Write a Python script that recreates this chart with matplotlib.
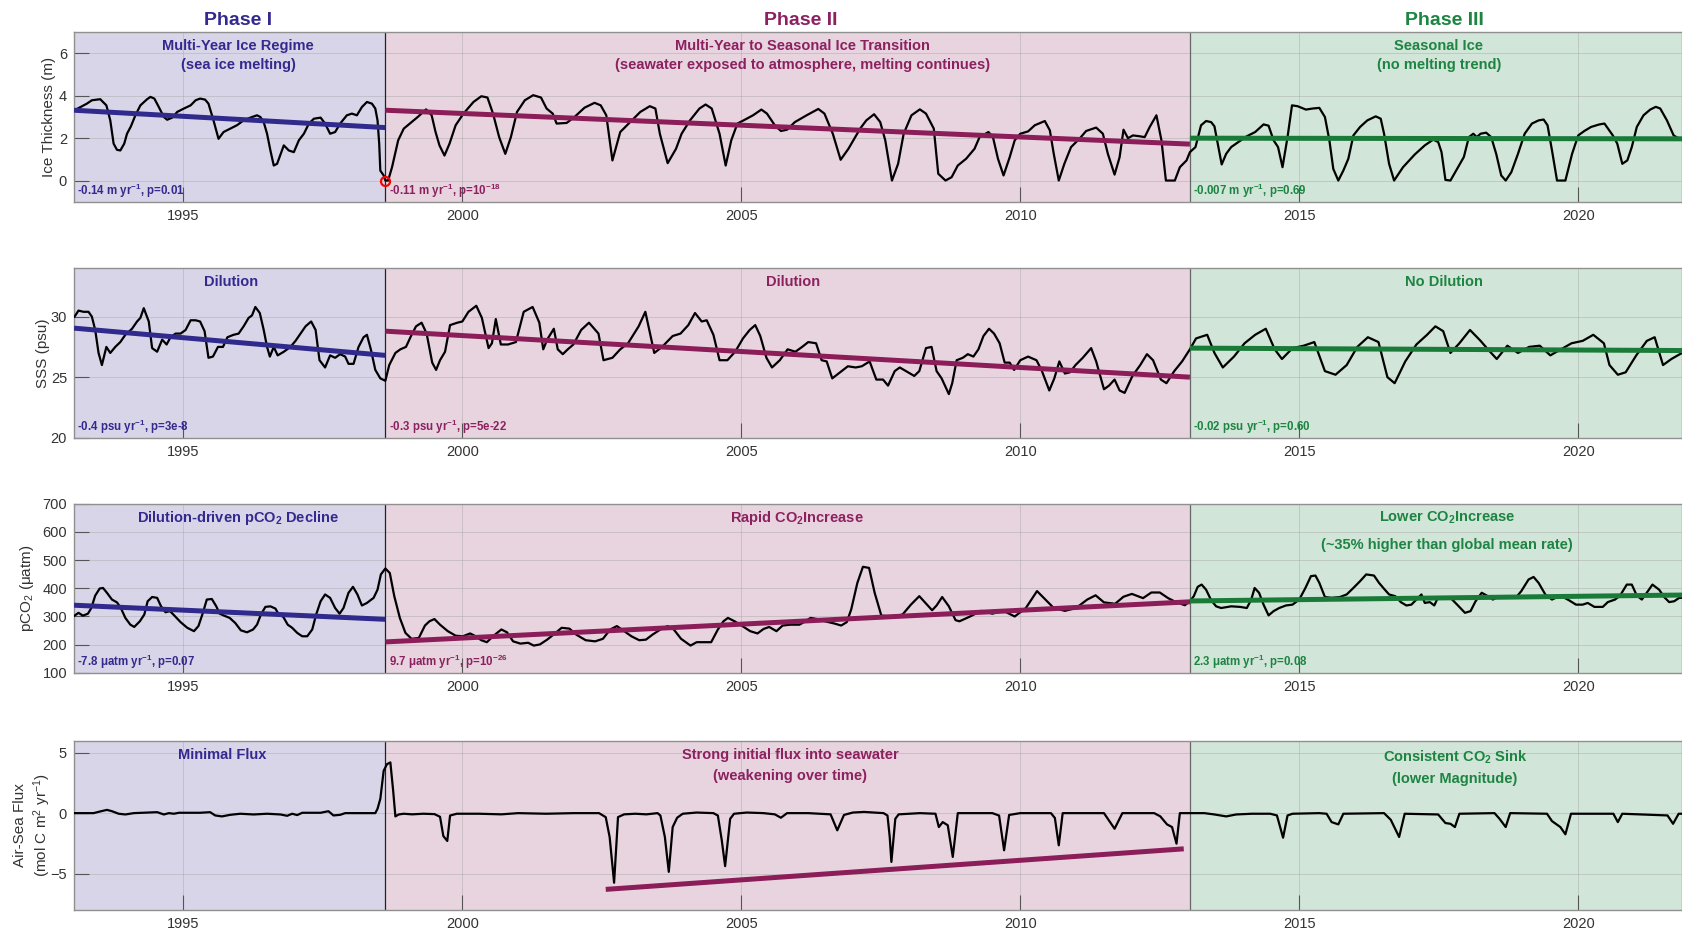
import numpy as np
import matplotlib.pyplot as plt

plt.rcParams['font.family'] = ['Liberation Sans', 'DejaVu Sans']
plt.rcParams['mathtext.default'] = 'regular'

# phase boundaries (decimal year)
phase_edges = [1993.04, 1998.62, 2013.04, 2021.86]
phase_names = ['Phase I', 'Phase II', 'Phase III']
phase_title_x = [1995.98, 2006.06, 2017.6]

# ice thickness (m) as (year, value)
ice = [
    (1993.05, 3.32), (1993.27, 3.63), (1993.36, 3.79), (1993.51, 3.84), (1993.62, 3.55), (1993.69, 2.84),
    (1993.75, 1.74), (1993.81, 1.45), (1993.87, 1.42), (1993.94, 1.74), (1993.99, 2.21), (1994.06, 2.56),
    (1994.14, 3.08), (1994.23, 3.55), (1994.35, 3.84), (1994.41, 3.95), (1994.48, 3.87), (1994.56, 3.47),
    (1994.65, 3.00), (1994.71, 2.87), (1994.80, 2.97), (1994.89, 3.24), (1995.01, 3.40), (1995.13, 3.55),
    (1995.22, 3.79), (1995.30, 3.87), (1995.39, 3.82), (1995.45, 3.63), (1995.54, 2.84), (1995.63, 1.97),
    (1995.72, 2.29), (1995.84, 2.45), (1995.96, 2.61), (1996.08, 2.84), (1996.20, 2.97), (1996.32, 3.08),
    (1996.38, 3.00), (1996.44, 2.76), (1996.50, 2.21), (1996.56, 1.42), (1996.62, 0.71), (1996.68, 0.79),
    (1996.80, 1.66), (1996.89, 1.42), (1996.98, 1.34), (1997.07, 1.90), (1997.16, 2.21), (1997.25, 2.69),
    (1997.34, 2.92), (1997.46, 2.97), (1997.54, 2.69), (1997.63, 2.21), (1997.72, 2.29), (1997.81, 2.69),
    (1997.93, 3.08), (1998.02, 3.16), (1998.11, 3.08), (1998.20, 3.47), (1998.29, 3.71), (1998.38, 3.63),
    (1998.44, 3.40), (1998.48, 2.84), (1998.51, 1.74), (1998.53, 0.47), (1998.59, 0.24), (1998.62, 0.00),
    (1998.67, 0.00), (1998.74, 0.63), (1998.85, 1.90), (1998.95, 2.45), (1999.06, 2.69), (1999.20, 3.00),
    (1999.35, 3.36), (1999.45, 3.08), (1999.52, 2.29), (1999.59, 1.66), (1999.68, 1.18), (1999.77, 1.74),
    (1999.88, 2.61), (2000.02, 3.16), (2000.20, 3.71), (2000.34, 3.98), (2000.45, 3.92), (2000.55, 3.16),
    (2000.66, 2.05), (2000.77, 1.26), (2000.87, 2.05), (2000.98, 3.24), (2001.12, 3.79), (2001.27, 4.03),
    (2001.41, 3.92), (2001.51, 3.40), (2001.62, 3.16), (2001.69, 2.69), (2001.87, 2.72), (2002.01, 3.00),
    (2002.19, 3.44), (2002.37, 3.67), (2002.48, 3.55), (2002.58, 3.08), (2002.69, 0.95), (2002.83, 2.29),
    (2003.04, 2.84), (2003.19, 3.24), (2003.36, 3.51), (2003.46, 3.40), (2003.54, 2.21), (2003.68, 0.82),
    (2003.83, 1.50), (2003.93, 2.21), (2004.08, 2.84), (2004.25, 3.40), (2004.36, 3.59), (2004.47, 3.40),
    (2004.61, 2.21), (2004.72, 0.71), (2004.82, 1.90), (2004.93, 2.69), (2005.04, 2.84), (2005.21, 3.08),
    (2005.36, 3.35), (2005.46, 3.16), (2005.60, 2.61), (2005.71, 2.34), (2005.82, 2.40), (2005.96, 2.76),
    (2006.17, 3.08), (2006.38, 3.38), (2006.49, 3.16), (2006.64, 2.21), (2006.78, 0.98), (2006.92, 1.50),
    (2007.13, 2.45), (2007.24, 2.84), (2007.38, 3.13), (2007.49, 2.76), (2007.58, 1.90), (2007.70, 0.00),
    (2007.81, 0.79), (2007.91, 2.21), (2008.05, 3.08), (2008.20, 3.36), (2008.31, 3.16), (2008.45, 2.45),
    (2008.53, 0.32), (2008.66, 0.00), (2008.77, 0.16), (2008.88, 0.71), (2009.03, 1.03), (2009.18, 1.50),
    (2009.27, 2.05), (2009.43, 2.29), (2009.51, 2.05), (2009.60, 1.03), (2009.70, 0.24), (2009.81, 1.10),
    (2009.90, 1.90), (2010.00, 2.21), (2010.14, 2.32), (2010.26, 2.61), (2010.44, 2.81), (2010.53, 2.37),
    (2010.60, 1.26), (2010.69, 0.00), (2010.79, 0.79), (2010.91, 1.58), (2011.06, 1.97), (2011.18, 2.34),
    (2011.36, 2.50), (2011.48, 2.21), (2011.57, 1.26), (2011.69, 0.28), (2011.78, 1.10), (2011.85, 2.40),
    (2011.93, 2.00), (2012.02, 2.13), (2012.14, 2.09), (2012.23, 2.05), (2012.32, 2.53), (2012.44, 3.08),
    (2012.53, 1.90), (2012.61, 0.00), (2012.77, 0.00), (2012.86, 0.63), (2012.98, 0.95), (2013.04, 1.34),
    (2013.14, 1.58), (2013.24, 2.61), (2013.33, 2.81), (2013.42, 2.76), (2013.48, 2.56), (2013.54, 1.74),
    (2013.61, 0.76), (2013.69, 1.26), (2013.78, 1.58), (2013.91, 1.82), (2014.06, 2.09), (2014.21, 2.29),
    (2014.36, 2.65), (2014.45, 2.59), (2014.54, 1.90), (2014.62, 1.58), (2014.70, 0.63), (2014.79, 2.05),
    (2014.87, 3.55), (2014.97, 3.51), (2015.12, 3.35), (2015.24, 3.40), (2015.36, 3.43), (2015.46, 3.00),
    (2015.54, 1.90), (2015.61, 0.55), (2015.70, 0.00), (2015.79, 0.47), (2015.88, 1.03), (2015.97, 2.13),
    (2016.09, 2.53), (2016.22, 2.84), (2016.37, 3.03), (2016.46, 2.92), (2016.52, 2.21), (2016.61, 0.79),
    (2016.70, 0.00), (2016.86, 0.63), (2017.07, 1.23), (2017.25, 1.66), (2017.40, 1.93), (2017.49, 1.82),
    (2017.55, 1.34), (2017.62, 0.03), (2017.71, 0.00), (2017.83, 0.55), (2017.95, 1.11), (2018.04, 2.05),
    (2018.12, 2.21), (2018.18, 2.05), (2018.25, 2.21), (2018.35, 2.26), (2018.44, 2.05), (2018.53, 1.26),
    (2018.62, 0.24), (2018.70, 0.00), (2018.80, 0.39), (2018.92, 1.26), (2019.04, 2.21), (2019.17, 2.69),
    (2019.29, 2.84), (2019.38, 2.88), (2019.45, 2.61), (2019.53, 1.42), (2019.62, 0.00), (2019.77, 0.00),
    (2019.89, 1.26), (2020.00, 2.13), (2020.11, 2.34), (2020.23, 2.53), (2020.38, 2.65), (2020.47, 2.69),
    (2020.62, 2.13), (2020.70, 1.74), (2020.79, 0.79), (2020.88, 0.95), (2020.96, 1.58), (2021.05, 2.53),
    (2021.17, 3.08), (2021.29, 3.35), (2021.39, 3.48), (2021.47, 3.40), (2021.59, 2.84), (2021.71, 2.13),
    (2021.81, 1.97), (2021.86, 1.97),
]

# sea surface salinity (psu)
sss = [
    (1993.05, 30.0), (1993.12, 30.5), (1993.21, 30.4), (1993.30, 30.4), (1993.36, 30.0), (1993.42, 28.9),
    (1993.48, 27.0), (1993.54, 26.0), (1993.62, 27.5), (1993.69, 27.0), (1993.78, 27.5), (1993.87, 27.9),
    (1993.96, 28.5), (1994.08, 29.0), (1994.17, 29.6), (1994.23, 29.9), (1994.29, 30.7), (1994.38, 29.6),
    (1994.44, 27.4), (1994.53, 27.1), (1994.62, 28.1), (1994.70, 27.7), (1994.77, 28.3), (1994.86, 28.6),
    (1994.95, 28.6), (1995.04, 28.9), (1995.13, 29.7), (1995.22, 29.7), (1995.30, 29.6), (1995.38, 28.8),
    (1995.45, 26.6), (1995.53, 26.7), (1995.62, 27.5), (1995.71, 27.5), (1995.79, 28.3), (1995.90, 28.5),
    (1995.99, 28.6), (1996.08, 29.2), (1996.17, 29.9), (1996.23, 30.1), (1996.29, 30.8), (1996.37, 30.3),
    (1996.44, 28.9), (1996.50, 27.5), (1996.55, 26.7), (1996.62, 27.5), (1996.69, 26.8), (1996.80, 27.1),
    (1996.92, 27.5), (1997.01, 28.0), (1997.10, 28.6), (1997.19, 29.2), (1997.29, 29.6), (1997.37, 28.9),
    (1997.44, 26.4), (1997.54, 25.8), (1997.63, 26.8), (1997.72, 26.6), (1997.81, 26.9), (1997.90, 26.7),
    (1997.96, 26.1), (1998.05, 26.1), (1998.14, 27.5), (1998.23, 28.3), (1998.29, 28.5), (1998.36, 27.3),
    (1998.44, 25.6), (1998.53, 24.9), (1998.62, 24.7), (1998.69, 26.0), (1998.80, 27.0), (1998.89, 27.3),
    (1998.99, 27.5), (1999.08, 28.4), (1999.17, 29.2), (1999.27, 29.5), (1999.36, 28.6), (1999.46, 26.2),
    (1999.53, 25.6), (1999.60, 26.4), (1999.69, 27.1), (1999.78, 29.3), (1999.91, 29.5), (2000.00, 29.6),
    (2000.11, 30.4), (2000.25, 30.9), (2000.35, 29.9), (2000.47, 27.4), (2000.53, 27.8), (2000.60, 29.8),
    (2000.69, 27.7), (2000.82, 27.7), (2000.96, 27.9), (2001.10, 30.4), (2001.26, 30.8), (2001.38, 29.5),
    (2001.45, 27.3), (2001.52, 28.1), (2001.64, 29.0), (2001.71, 27.3), (2001.80, 26.9), (2001.89, 27.3),
    (2001.99, 27.7), (2002.13, 28.9), (2002.27, 29.5), (2002.44, 28.6), (2002.53, 26.4), (2002.69, 26.6),
    (2002.83, 27.3), (2002.97, 27.8), (2003.16, 29.2), (2003.28, 30.4), (2003.37, 28.5), (2003.44, 27.0),
    (2003.58, 27.5), (2003.77, 28.4), (2003.91, 28.6), (2004.05, 29.3), (2004.17, 30.3), (2004.29, 29.6),
    (2004.38, 29.7), (2004.50, 28.5), (2004.61, 26.4), (2004.75, 26.4), (2004.89, 27.1), (2005.03, 28.2),
    (2005.15, 28.9), (2005.25, 29.3), (2005.34, 28.4), (2005.45, 26.6), (2005.55, 25.8), (2005.69, 26.4),
    (2005.83, 27.3), (2005.97, 27.1), (2006.09, 27.5), (2006.20, 27.9), (2006.34, 27.8), (2006.44, 26.4),
    (2006.53, 26.3), (2006.63, 24.9), (2006.77, 25.4), (2006.91, 25.9), (2007.05, 25.8), (2007.16, 25.9),
    (2007.30, 26.3), (2007.42, 24.8), (2007.54, 24.8), (2007.63, 24.3), (2007.75, 25.5), (2007.84, 25.8),
    (2007.99, 25.4), (2008.10, 25.1), (2008.19, 25.5), (2008.31, 27.4), (2008.41, 27.5), (2008.50, 25.5),
    (2008.59, 24.9), (2008.72, 23.6), (2008.78, 24.5), (2008.86, 26.4), (2008.97, 26.6), (2009.06, 26.9),
    (2009.16, 26.7), (2009.25, 27.3), (2009.34, 28.4), (2009.44, 29.0), (2009.53, 28.6), (2009.63, 27.8),
    (2009.72, 26.2), (2009.81, 26.2), (2009.89, 25.6), (2010.00, 26.4), (2010.14, 26.7), (2010.29, 26.4),
    (2010.38, 25.6), (2010.52, 23.9), (2010.61, 24.9), (2010.70, 26.3), (2010.80, 25.3), (2010.89, 25.4),
    (2010.99, 26.0), (2011.12, 26.6), (2011.27, 27.4), (2011.36, 26.3), (2011.50, 24.0), (2011.59, 24.3),
    (2011.69, 24.8), (2011.78, 23.9), (2011.87, 23.7), (2012.01, 25.1), (2012.15, 26.0), (2012.27, 26.9),
    (2012.38, 26.4), (2012.52, 24.8), (2012.62, 24.5), (2012.76, 25.5), (2012.90, 26.3), (2013.04, 27.3),
    (2013.15, 28.2), (2013.35, 28.5), (2013.48, 27.0), (2013.63, 25.8), (2013.83, 26.7), (2014.02, 27.8),
    (2014.21, 28.5), (2014.40, 29.0), (2014.56, 27.3), (2014.69, 26.5), (2014.88, 27.4), (2015.08, 27.6),
    (2015.27, 27.9), (2015.46, 25.5), (2015.65, 25.2), (2015.85, 26.0), (2016.04, 27.5), (2016.23, 28.3),
    (2016.42, 27.9), (2016.58, 25.0), (2016.71, 24.5), (2016.90, 26.3), (2017.10, 27.7), (2017.29, 28.5),
    (2017.44, 29.2), (2017.58, 28.8), (2017.71, 27.0), (2017.87, 27.8), (2018.06, 28.9), (2018.25, 28.0),
    (2018.40, 27.2), (2018.54, 26.5), (2018.73, 27.6), (2018.92, 27.0), (2019.12, 27.5), (2019.31, 27.6),
    (2019.50, 26.8), (2019.69, 27.3), (2019.88, 27.8), (2020.08, 28.0), (2020.27, 28.5), (2020.46, 27.8),
    (2020.56, 26.0), (2020.71, 25.2), (2020.85, 25.4), (2021.04, 26.8), (2021.23, 28.0), (2021.37, 28.3),
    (2021.52, 26.0), (2021.67, 26.5), (2021.86, 27.0),
]

# surface pCO2 (uatm)
pco2 = [
    (1993.05, 303), (1993.12, 313), (1993.20, 303), (1993.29, 310), (1993.35, 330), (1993.42, 374),
    (1993.50, 399), (1993.56, 401), (1993.63, 384), (1993.72, 360), (1993.81, 350), (1993.88, 330),
    (1993.96, 295), (1994.05, 271), (1994.12, 263), (1994.22, 283), (1994.30, 307), (1994.36, 354),
    (1994.44, 369), (1994.53, 366), (1994.60, 336), (1994.68, 315), (1994.76, 319), (1994.84, 303),
    (1994.95, 280), (1995.07, 260), (1995.19, 248), (1995.27, 266), (1995.35, 313), (1995.42, 360),
    (1995.51, 362), (1995.59, 336), (1995.65, 310), (1995.73, 303), (1995.83, 295), (1995.93, 277),
    (1996.03, 251), (1996.14, 244), (1996.25, 254), (1996.32, 271), (1996.39, 307), (1996.47, 334),
    (1996.56, 336), (1996.65, 328), (1996.71, 307), (1996.79, 299), (1996.87, 271), (1996.95, 260),
    (1997.04, 242), (1997.13, 230), (1997.22, 230), (1997.31, 254), (1997.38, 307), (1997.46, 354),
    (1997.54, 378), (1997.63, 366), (1997.72, 330), (1997.80, 310), (1997.87, 330), (1997.96, 384),
    (1998.04, 405), (1998.12, 378), (1998.20, 339), (1998.29, 348), (1998.41, 366), (1998.48, 395),
    (1998.54, 449), (1998.62, 470), (1998.70, 454), (1998.78, 372), (1998.88, 295), (1998.98, 242),
    (1999.09, 221), (1999.22, 224), (1999.33, 268), (1999.41, 283), (1999.50, 291), (1999.60, 271),
    (1999.74, 248), (1999.88, 232), (2000.01, 230), (2000.14, 240), (2000.22, 232), (2000.34, 216),
    (2000.44, 209), (2000.56, 232), (2000.70, 254), (2000.80, 244), (2000.91, 212), (2001.04, 204),
    (2001.18, 207), (2001.28, 197), (2001.39, 201), (2001.52, 218), (2001.66, 240), (2001.78, 260),
    (2001.92, 257), (2002.04, 236), (2002.21, 216), (2002.38, 212), (2002.52, 221), (2002.65, 254),
    (2002.77, 266), (2002.88, 251), (2003.03, 230), (2003.17, 216), (2003.29, 218), (2003.41, 236),
    (2003.55, 254), (2003.68, 266), (2003.79, 254), (2003.92, 221), (2004.09, 197), (2004.20, 209),
    (2004.33, 209), (2004.46, 209), (2004.58, 254), (2004.68, 283), (2004.76, 295), (2004.88, 283),
    (2005.02, 266), (2005.16, 248), (2005.29, 240), (2005.40, 256), (2005.50, 263), (2005.63, 248),
    (2005.74, 268), (2005.88, 271), (2006.04, 271), (2006.15, 283), (2006.24, 295), (2006.36, 291),
    (2006.50, 283), (2006.67, 275), (2006.79, 268), (2006.89, 280), (2006.97, 325), (2007.08, 419),
    (2007.18, 476), (2007.29, 472), (2007.39, 384), (2007.51, 303), (2007.63, 301), (2007.76, 301),
    (2007.89, 307), (2008.04, 342), (2008.19, 372), (2008.30, 348), (2008.42, 322), (2008.50, 339),
    (2008.60, 369), (2008.72, 336), (2008.84, 287), (2008.91, 283), (2009.10, 300), (2009.30, 320),
    (2009.50, 310), (2009.70, 320), (2009.90, 300), (2010.10, 330), (2010.30, 390), (2010.45, 360),
    (2010.60, 330), (2010.80, 320), (2011.00, 330), (2011.20, 360), (2011.35, 375), (2011.50, 350),
    (2011.70, 345), (2011.85, 370), (2012.00, 380), (2012.20, 365), (2012.35, 385), (2012.50, 385),
    (2012.65, 365), (2012.80, 350), (2012.95, 340), (2013.04, 354), (2013.11, 372), (2013.18, 405),
    (2013.25, 413), (2013.33, 395), (2013.42, 358), (2013.51, 336), (2013.60, 330), (2013.78, 336),
    (2013.94, 334), (2014.06, 330), (2014.14, 360), (2014.20, 401), (2014.28, 384), (2014.36, 342),
    (2014.45, 304), (2014.54, 319), (2014.64, 330), (2014.76, 339), (2014.88, 342), (2015.00, 360),
    (2015.11, 401), (2015.21, 443), (2015.29, 445), (2015.36, 419), (2015.46, 369), (2015.58, 366),
    (2015.73, 369), (2015.85, 378), (2015.97, 401), (2016.09, 425), (2016.20, 449), (2016.34, 445),
    (2016.43, 419), (2016.52, 398), (2016.61, 378), (2016.72, 372), (2016.82, 351), (2016.92, 339),
    (2017.01, 342), (2017.10, 360), (2017.19, 378), (2017.25, 348), (2017.34, 351), (2017.42, 339),
    (2017.49, 369), (2017.59, 366), (2017.71, 366), (2017.83, 342), (2017.97, 313), (2018.07, 319),
    (2018.16, 354), (2018.27, 384), (2018.38, 372), (2018.47, 360), (2018.56, 369), (2018.68, 366),
    (2018.80, 369), (2018.88, 366), (2018.98, 390), (2019.11, 431), (2019.20, 440), (2019.29, 419),
    (2019.41, 378), (2019.53, 360), (2019.68, 374), (2019.83, 358), (2019.96, 342), (2020.08, 342),
    (2020.17, 348), (2020.29, 334), (2020.44, 334), (2020.53, 351), (2020.66, 360), (2020.75, 374),
    (2020.87, 413), (2020.96, 413), (2021.05, 374), (2021.14, 360), (2021.25, 390), (2021.33, 413),
    (2021.45, 395), (2021.54, 369), (2021.63, 351), (2021.72, 354), (2021.81, 366), (2021.86, 366),
]

# air-sea CO2 flux (mol C m-2 yr-1)
flux = [
    (1993.05, 0.00), (1993.39, 0.00), (1993.51, 0.14), (1993.63, 0.27), (1993.72, 0.16), (1993.84, -0.05),
    (1993.96, -0.11), (1994.11, 0.00), (1994.53, 0.08), (1994.65, -0.11), (1994.74, 0.00), (1994.83, -0.05),
    (1994.92, 0.03), (1995.30, 0.03), (1995.48, 0.08), (1995.57, -0.19), (1995.69, -0.27), (1995.84, -0.14),
    (1996.02, -0.05), (1996.26, -0.11), (1996.50, -0.05), (1996.74, -0.11), (1996.86, -0.22), (1996.95, -0.05),
    (1997.04, -0.16), (1997.13, 0.03), (1997.46, 0.03), (1997.60, 0.16), (1997.69, -0.19), (1997.81, -0.14),
    (1997.90, 0.00), (1998.44, 0.00), (1998.48, 0.36), (1998.53, 1.18), (1998.59, 3.50), (1998.65, 4.05),
    (1998.71, 4.19), (1998.76, 1.86), (1998.80, -0.27), (1998.86, -0.11), (1998.95, -0.05), (1999.10, -0.10),
    (1999.30, -0.05), (1999.50, -0.08), (1999.60, -0.30), (1999.66, -1.90), (1999.73, -2.30), (1999.78, -0.20),
    (1999.90, -0.05), (2000.30, -0.05), (2000.70, -0.10), (2001.00, 0.00), (2001.50, -0.05), (2002.00, 0.00),
    (2002.45, 0.00), (2002.57, -0.33), (2002.64, -1.97), (2002.72, -5.75), (2002.79, -0.33), (2002.90, -0.10),
    (2003.10, -0.05), (2003.30, -0.10), (2003.50, 0.00), (2003.55, -0.20), (2003.63, -1.97), (2003.70, -4.85),
    (2003.77, -1.15), (2003.85, -0.38), (2003.95, -0.05), (2004.20, 0.05), (2004.50, 0.00), (2004.58, -0.20),
    (2004.65, -2.25), (2004.71, -4.38), (2004.80, -0.47), (2004.87, -0.05), (2005.10, 0.05), (2005.40, 0.00),
    (2005.60, -0.10), (2005.71, -0.38), (2005.82, 0.00), (2006.20, 0.00), (2006.60, -0.10), (2006.72, -1.42),
    (2006.84, -0.15), (2007.00, 0.05), (2007.20, 0.10), (2007.55, 0.00), (2007.62, -0.20), (2007.66, -1.97),
    (2007.69, -4.03), (2007.76, -0.47), (2007.82, -0.10), (2008.20, 0.00), (2008.48, -0.05), (2008.54, -1.15),
    (2008.61, -0.74), (2008.70, -1.00), (2008.79, -3.62), (2008.88, 0.00), (2009.50, 0.00), (2009.62, -0.20),
    (2009.71, -3.07), (2009.80, -0.15), (2010.00, 0.00), (2010.55, 0.00), (2010.62, -0.40), (2010.69, -2.66),
    (2010.76, 0.00), (2011.50, 0.00), (2011.69, -1.29), (2011.83, 0.00), (2012.40, 0.00), (2012.51, -0.27),
    (2012.63, -0.93), (2012.72, -1.15), (2012.80, -2.52), (2012.86, 0.00), (2013.04, 0.00), (2013.30, 0.00),
    (2013.48, -0.11), (2013.69, -0.27), (2013.87, -0.11), (2014.15, -0.05), (2014.48, -0.05), (2014.60, -0.19),
    (2014.71, -2.03), (2014.79, -0.19), (2014.88, -0.05), (2015.36, 0.00), (2015.49, -0.05), (2015.58, -0.74),
    (2015.70, -0.93), (2015.79, -0.05), (2016.52, 0.00), (2016.64, -0.55), (2016.79, -1.97), (2016.89, -0.05),
    (2017.49, -0.11), (2017.62, -0.82), (2017.71, -0.88), (2017.79, -1.15), (2017.87, -0.05), (2018.50, 0.00),
    (2018.59, -0.47), (2018.70, -1.15), (2018.78, 0.00), (2019.44, -0.05), (2019.53, -0.66), (2019.68, -1.15),
    (2019.77, -1.75), (2019.87, -0.05), (2020.63, -0.05), (2020.71, -0.74), (2020.79, -0.05), (2021.60, -0.19),
    (2021.70, -0.88), (2021.80, -0.05), (2021.86, -0.05),
]

# linear trend per phase: (value at phase start, value at phase end)
ice_trend = [(3.32, 2.50), (3.32, 1.72), (2.00, 1.97)]
sss_trend = [(29.05, 26.80), (28.80, 25.00), (27.40, 27.20)]
pco2_trend = [(340, 290), (210, 352), (355, 376)]
# flux trend drawn only over part of phase II
flux_trend_x = [2002.57, 2012.93]
flux_trend_y = [-6.30, -2.95]

ice_notes = [r'-0.14 m yr$^{-1}$, p=0.01', r'-0.11 m yr$^{-1}$, p=10$^{-18}$', r'-0.007 m yr$^{-1}$, p=0.69']
sss_notes = [r'-0.4 psu yr$^{-1}$, p=3e-8', r'-0.3 psu yr$^{-1}$, p=5e-22', r'-0.02 psu yr$^{-1}$, p=0.60']
pco2_notes = [r'-7.8 $\mu$atm yr$^{-1}$, p=0.07', r'9.7 $\mu$atm yr$^{-1}$, p=10$^{-26}$',
              r'2.3 $\mu$atm yr$^{-1}$, p=0.08']

ice_heads = ['Multi-Year Ice Regime\n(sea ice melting)',
             'Multi-Year to Seasonal Ice Transition\n(seawater exposed to atmosphere, melting continues)',
             'Seasonal Ice\n(no melting trend)']
sss_heads = ['Dilution', 'Dilution', 'No Dilution']
pco2_heads = [r'Dilution-driven pCO$_2$ Decline', r'Rapid CO$_2$Increase',
              'Lower CO$_2$Increase\n(~35% higher than global mean rate)']
flux_heads = ['Minimal Flux', 'Strong initial flux into seawater\n(weakening over time)',
              'Consistent CO$_2$ Sink\n(lower Magnitude)']

bg_colors = ['#d8d5e8', '#e8d4df', '#d1e5d8']
txt_colors = ['#33298f', '#8c2160', '#1d8442']
trend_colors = ['#2f2a8c', '#8b1d58', '#1a7a38']

panels = [
    dict(data=ice, trend=ice_trend, notes=ice_notes, heads=ice_heads, ylim=(-1, 7), yticks=[0, 2, 4, 6],
         ylabel='Ice Thickness (m)', lab_x=-0.0115, head_x=[1995.98, 2006.1, 2017.5], head_y=0.96, lsp=1.45),
    dict(data=sss, trend=sss_trend, notes=sss_notes, heads=sss_heads, ylim=(20, 34), yticks=[20, 25, 30],
         ylabel='SSS (psu)', lab_x=-0.0152, head_x=[1995.85, 2005.92, 2017.6], head_y=0.96, lsp=1.45),
    dict(data=pco2, trend=pco2_trend, notes=pco2_notes, heads=pco2_heads, ylim=(100, 700),
         yticks=[100, 200, 300, 400, 500, 600, 700], ylabel=r'pCO$_2$ ($\mu$atm)', lab_x=-0.0239,
         head_x=[1995.98, 2006.0, 2017.65], head_y=0.965, lsp=2.1),
    dict(data=flux, trend=None, notes=None, heads=flux_heads, ylim=(-8, 6), yticks=[-5, 0, 5],
         ylabel='Air-Sea Flux\n(mol C m$^2$ yr$^{-1}$)', lab_x=-0.013,
         head_x=[1995.69, 2005.88, 2017.79], head_y=0.955, lsp=1.6),
]

fig = plt.figure(figsize=(16.82, 9.33), dpi=100)
bottoms = [0.7838, 0.5309, 0.2787, 0.0247]
height = 0.1816
left = 0.044

for i, p in enumerate(panels):
    ax = fig.add_axes([left, bottoms[i], 1.0 - left, height])
    ax.set_axisbelow('line')
    for k in range(3):
        ax.axvspan(phase_edges[k], phase_edges[k + 1], color=bg_colors[k], lw=0, zorder=0)
    ax.axvline(phase_edges[1], color='#222222', lw=0.9, zorder=1.6)
    ax.axvline(phase_edges[2], color='#666666', lw=0.9, zorder=1.6)

    xy = np.array(p['data'])
    ax.plot(xy[:, 0], xy[:, 1], color='black', lw=1.6, zorder=3)

    if p['trend'] is not None:
        for k in range(3):
            ax.plot([phase_edges[k], phase_edges[k + 1]], p['trend'][k], color=trend_colors[k],
                    lw=3.6, solid_capstyle='butt', zorder=4)
    else:
        ax.plot(flux_trend_x, flux_trend_y, color=trend_colors[1], lw=3.6, solid_capstyle='butt', zorder=4)

    trans = ax.get_xaxis_transform()
    for k in range(3):
        ax.text(p['head_x'][k], p['head_y'], p['heads'][k], transform=trans, ha='center', va='top',
                color=txt_colors[k], fontsize=10.5, fontweight='bold', linespacing=p['lsp'], zorder=5)
        if p['notes'] is not None:
            ax.text(phase_edges[k] + 0.06, 0.065, p['notes'][k], transform=trans, ha='left', va='center',
                    color=txt_colors[k], fontsize=8.3, fontweight='bold', zorder=5)

    ax.set_xlim(phase_edges[0], phase_edges[-1])
    ax.set_ylim(*p['ylim'])
    ax.set_yticks(p['yticks'])
    ax.set_xticks([1995, 2000, 2005, 2010, 2015, 2020])
    ax.grid(True, color='#a8a8a8', lw=0.6, alpha=0.55)
    ax.tick_params(direction='in', length=11, width=0.8, color='#555555', labelcolor='#333333',
                   labelsize=10.5, pad=5)
    for s in ax.spines.values():
        s.set_color('#909090')
        s.set_linewidth(1.0)
    ax.set_ylabel(p['ylabel'], fontsize=11, color='#333333', linespacing=1.3)
    ax.yaxis.set_label_coords(p['lab_x'], 0.5)

    if i == 0:
        ax.plot([phase_edges[1]], [0.0], 'o', ms=6.5, mfc='none', mec='red', mew=1.6, zorder=6)
        for k in range(3):
            ax.text(phase_title_x[k], 1.072, phase_names[k], transform=trans, ha='center', va='center',
                    color=txt_colors[k], fontsize=14, fontweight='bold')

fig.savefig('out.png', dpi=100)
